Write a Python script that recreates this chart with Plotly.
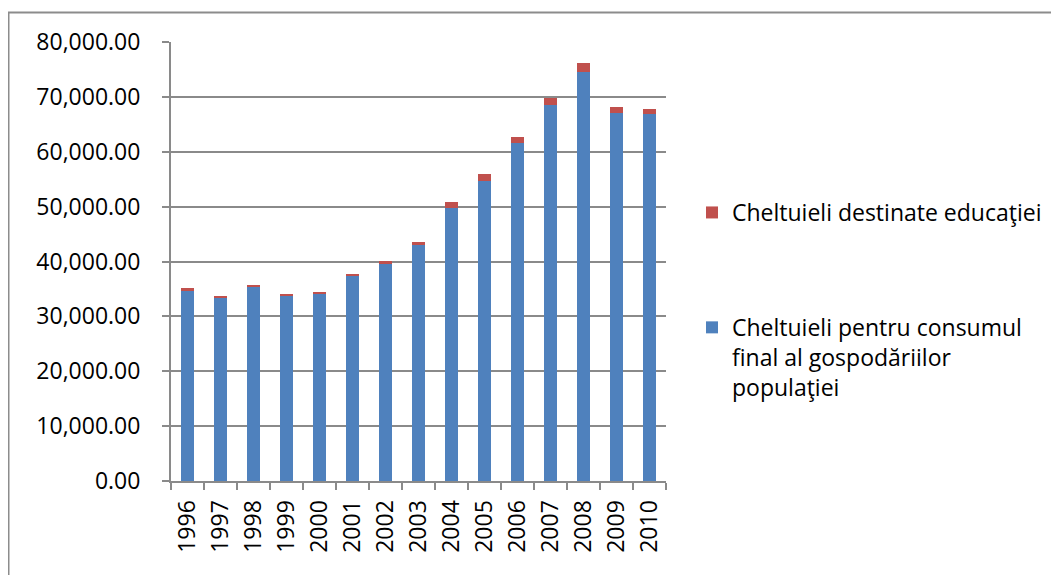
import plotly.graph_objects as go

years = ["1996", "1997", "1998", "1999", "2000", "2001", "2002", "2003",
         "2004", "2005", "2006", "2007", "2008", "2009", "2010"]
consum = [34800, 33400, 35350, 33750, 34100, 37300, 39600, 43000,
          49800, 54600, 61600, 68600, 74550, 67100, 66900]
educatie = [300, 300, 400, 300, 380, 400, 500, 600,
            1000, 1300, 1100, 1200, 1550, 1000, 850]

name_consum = "Cheltuieli pentru consumul<br>final al gospodăriilor<br>populaţiei"
name_educ = "Cheltuieli destinate educaţiei"

FONT = "Open Sans"
GRID = "#8a8a8a"

# page has an 8px body margin; figure sized to fit the window
W, H = 1043, 567
L, T, PW, PH = 163, 34, 495, 439
R = W - L - PW
B = H - T - PH

fig = go.Figure()
fig.add_trace(go.Bar(x=years, y=consum, name=name_consum, legendgroup="a",
                     legendrank=2,
                     marker=dict(color="#4F81BD", line=dict(width=0))))
fig.add_trace(go.Bar(x=years, y=educatie, name=name_educ, legendgroup="b",
                     legendrank=1,
                     marker=dict(color="#C0504D", line=dict(width=0))))

fig.update_layout(
    width=W, height=H,
    barmode="stack", bargap=0.6,
    paper_bgcolor="white", plot_bgcolor="white",
    margin=dict(l=L, r=R, t=T, b=B, autoexpand=False),
    font=dict(family=FONT, size=23, color="black"),
    legend=dict(x=(684 - L) / PW, xanchor="left",
                y=(T + PH - 183) / PH, yanchor="top",
                traceorder="grouped", tracegroupgap=82, valign="top",
                font=dict(family=FONT, size=23, color="black"),
                bgcolor="rgba(0,0,0,0)"),
    xaxis=dict(type="category", showline=True, linecolor=GRID, linewidth=2,
               ticks="outside", ticklen=7, tickcolor=GRID, tickwidth=2,
               tickson="boundaries", tickangle=-90, showgrid=False,
               ticklabelstandoff=8,
               tickfont=dict(family=FONT, size=23, color="black")),
    yaxis=dict(range=[0, 80000], dtick=10000, tickformat=",.2f",
               showline=True, linecolor=GRID, linewidth=2,
               ticks="outside", ticklen=7, tickcolor=GRID, tickwidth=2,
               showgrid=True, gridcolor=GRID, gridwidth=2,
               zeroline=False, ticklabelstandoff=17,
               tickfont=dict(family=FONT, size=23, color="black")),
    shapes=[dict(type="rect", xref="paper", yref="paper",
                 x0=(0.5 - L) / PW, x1=2.5,
                 y0=-1.5, y1=(T + PH - 4.5) / PH,
                 line=dict(color="#8c8c8c", width=2), layer="below")],
)

fig.write_html("out.html")
